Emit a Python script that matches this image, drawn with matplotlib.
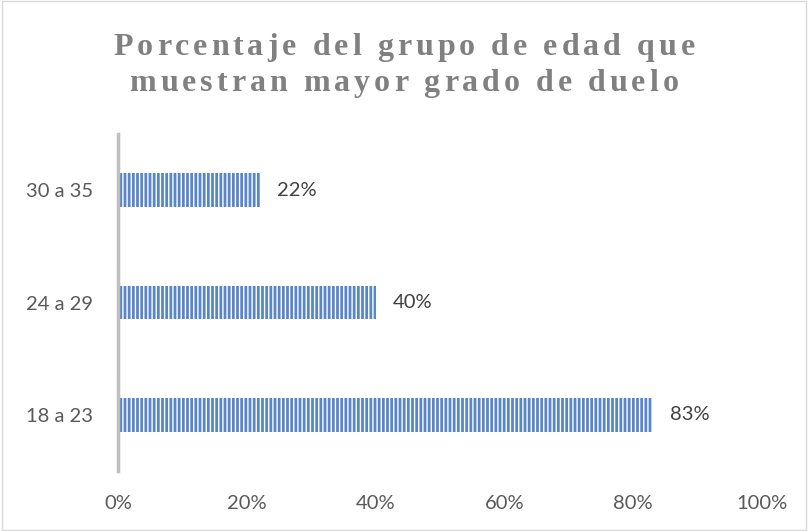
import matplotlib
matplotlib.use('Agg')
import matplotlib.pyplot as plt
from matplotlib.patches import Rectangle

# data
groups = ['18 a 23', '24 a 29', '30 a 35']
values = [0.83, 0.40, 0.22]
xticks = [0, 0.2, 0.4, 0.6, 0.8, 1.0]
xticklabels = ['0%', '20%', '40%', '60%', '80%', '100%']
title_lines = ['Porcentaje del grupo de edad que', 'muestran mayor grado de duelo']

plt.rcParams['font.family'] = ['Lato', 'DejaVu Sans']

fig = plt.figure(figsize=(8.08, 5.31), dpi=100)
ax = fig.add_axes([0.146, 0.113, 0.797, 0.6346])

bars = ax.barh(range(len(groups)), values, height=0.3, color='#5A86C8',
               edgecolor='white', linewidth=0, hatch='||||')

for i, v in enumerate(values):
    ax.text(v + 0.027, i, '{:.0f}%'.format(v * 100), va='center', ha='left',
            fontsize=14.5, color='#404040')

ax.set_xlim(0, 1.0)
ax.set_ylim(-0.5, len(groups) - 0.5)
ax.set_yticks(range(len(groups)))
ax.set_yticklabels(groups, fontsize=14.5, color='#595959')
ax.set_xticks(xticks)
ax.set_xticklabels(xticklabels, fontsize=14.5, color='#595959')
ax.tick_params(length=0)
ax.tick_params(axis='y', pad=18)
ax.tick_params(axis='x', pad=17)

for s in ['top', 'right', 'bottom']:
    ax.spines[s].set_visible(False)
ax.spines['left'].set_color('#BFBFBF')
ax.spines['left'].set_linewidth(2.5)

# title with letter spacing, placed char by char
renderer = fig.canvas.get_renderer()
tprops = dict(fontsize=23, fontweight='bold', color='#808080', family='Liberation Serif')
track = 4.0  # px between letters
for line, yc in zip(title_lines, [476, 440]):
    probe = fig.text(0, 0, line, **tprops)
    full_w = probe.get_window_extent(renderer).width
    probe.remove()
    total = full_w + track * (len(line) - 1)
    x0 = fig.bbox.width / 2 - total / 2
    p = fig.text(0, 0, 'x', **tprops)
    w_x = p.get_window_extent(renderer).width
    p.remove()
    for i, ch in enumerate(line):
        if ch == ' ':
            continue
        p = fig.text(0, 0, line[:i] + 'x', **tprops)
        w_pre = p.get_window_extent(renderer).width
        p.remove()
        x = x0 + (w_pre - w_x) + track * i
        fig.text(x / fig.bbox.width, yc / fig.bbox.height, ch, ha='left',
                 va='baseline', **tprops)

fig.patches.append(Rectangle((0.002, 0.002), 0.996, 0.996, transform=fig.transFigure,
                             fill=False, edgecolor='#D9D9D9', linewidth=1))

fig.savefig('out.png', dpi=100)
